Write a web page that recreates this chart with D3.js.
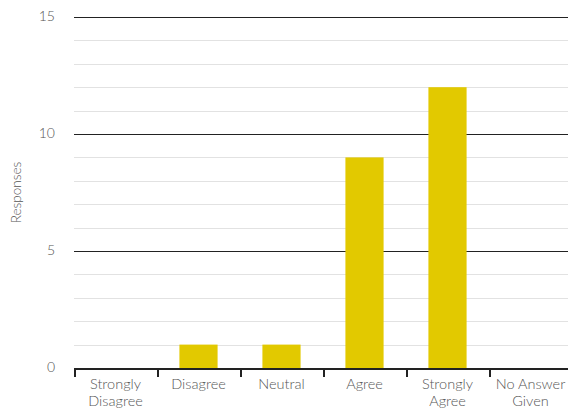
<!DOCTYPE html>
<html>
<head>
<meta charset="utf-8">
<script src="https://cdn.jsdelivr.net/npm/d3@7"></script>
<style>
  body { margin: 0; background: #fff; }
  text { font-family: Lato, "Open Sans", sans-serif; font-weight: 300; fill: #555; }
</style>
</head>
<body>
<div id="chart"></div>
<script>
// data
var categories = ["Strongly Disagree", "Disagree", "Neutral", "Agree", "Strongly Agree", "No Answer Given"];
var labelLines = [["Strongly", "Disagree"], ["Disagree"], ["Neutral"], ["Agree"], ["Strongly", "Agree"], ["No Answer", "Given"]];
var responses = [0, 1, 1, 9, 12, 0];
var majorTicks = [0, 5, 10, 15];
var minorTicks = d3.range(0, 16, 1);

var width = 568, height = 408;
var margin = { top: 17, right: -4, bottom: 40, left: 74 };

var svg = d3.select("#chart").append("svg")
    .attr("width", width)
    .attr("height", height);

var x = d3.scaleBand()
    .domain(categories)
    .range([margin.left, width - margin.right])
    .paddingInner(0.54)
    .paddingOuter(0.27);

var y = d3.scaleLinear()
    .domain([0, 15])
    .range([height - margin.bottom, margin.top]);

// minor grid lines
svg.append("g").selectAll("line")
    .data(minorTicks.filter(d => d % 5 !== 0))
    .enter().append("line")
    .attr("x1", margin.left).attr("x2", width)
    .attr("y1", d => Math.round(y(d)) + 0.5).attr("y2", d => Math.round(y(d)) + 0.5)
    .attr("stroke", "#e2e2e2").attr("stroke-width", 1);

// major grid lines
svg.append("g").selectAll("line")
    .data(majorTicks.filter(d => d > 0))
    .enter().append("line")
    .attr("x1", margin.left).attr("x2", width)
    .attr("y1", d => Math.round(y(d)) + 0.5).attr("y2", d => Math.round(y(d)) + 0.5)
    .attr("stroke", "#222").attr("stroke-width", 1.2);

// bars
svg.append("g").selectAll("rect")
    .data(responses)
    .enter().append("rect")
    .attr("x", (d, i) => x(categories[i]))
    .attr("width", x.bandwidth())
    .attr("y", d => y(d))
    .attr("height", d => y(0) - y(d))
    .attr("fill", "#e2c900");

// y tick labels
svg.append("g").selectAll("text")
    .data(majorTicks)
    .enter().append("text")
    .attr("x", 55)
    .attr("y", d => y(d) + 4)
    .attr("text-anchor", "end")
    .style("font-size", "14px")
    .text(d => d);

// y axis title
svg.append("text")
    .attr("transform", "translate(21," + (y(7.5)) + ") rotate(-90)")
    .attr("text-anchor", "middle")
    .style("font-size", "13.5px")
    .text("Responses");

// x axis line with band-boundary ticks
var step = x.step();
var x0 = margin.left;
var axis = svg.append("g");
axis.append("line")
    .attr("x1", x0).attr("x2", width)
    .attr("y1", y(0) + 1).attr("y2", y(0) + 1)
    .attr("stroke", "#222").attr("stroke-width", 2);
axis.selectAll(".tick")
    .data(d3.range(categories.length + 1))
    .enter().append("line")
    .attr("x1", i => x0 + i * step + 1).attr("x2", i => x0 + i * step + 1)
    .attr("y1", y(0)).attr("y2", y(0) + 9)
    .attr("stroke", "#222").attr("stroke-width", 2);

// category labels
var labels = svg.append("g").selectAll("text")
    .data(categories)
    .enter().append("text")
    .attr("text-anchor", "middle")
    .style("font-size", "14.5px")
    .attr("transform", d => "translate(" + (x(d) + x.bandwidth() / 2) + "," + (y(0) + 21) + ")");
labels.each(function(d, i) {
    d3.select(this).selectAll("tspan")
        .data(labelLines[i])
        .enter().append("tspan")
        .attr("x", 0)
        .attr("dy", (t, j) => j === 0 ? 0 : 17)
        .text(t => t);
});
</script>
</body>
</html>
